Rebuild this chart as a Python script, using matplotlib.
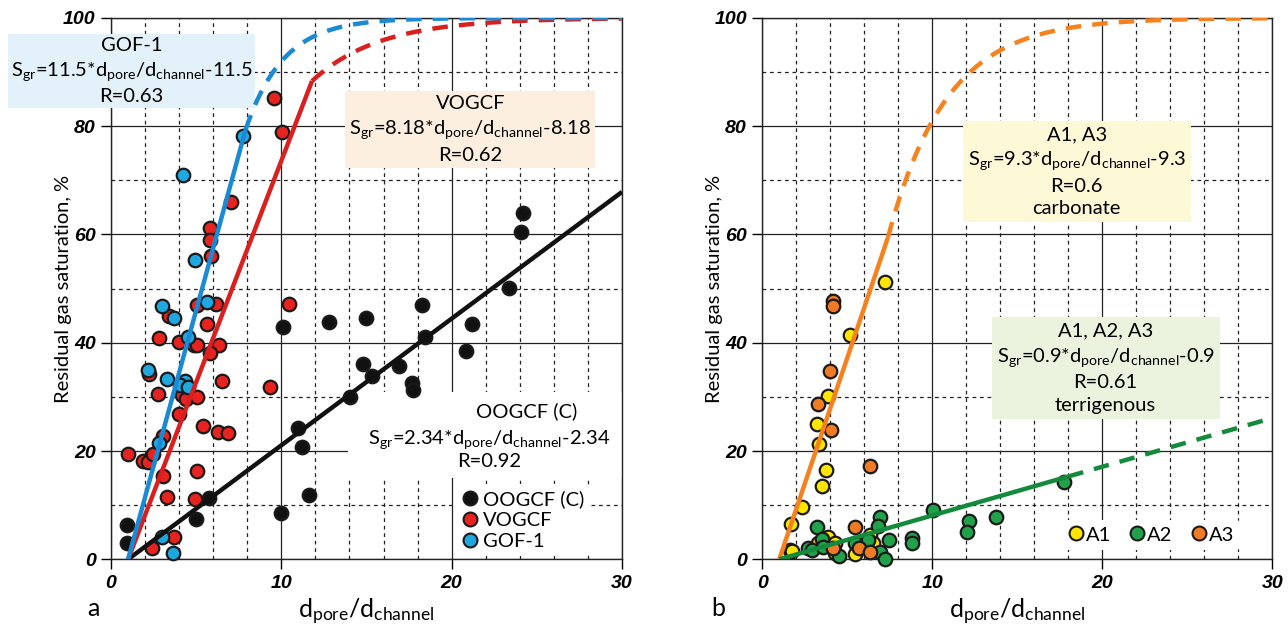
import numpy as np
import matplotlib
matplotlib.use("Agg")
import matplotlib.pyplot as plt
from matplotlib.lines import Line2D
from matplotlib.patches import Rectangle

plt.rcParams['font.family'] = ['Lato', 'DejaVu Sans']
plt.rcParams['mathtext.default'] = 'regular'

# ---- data, panel a ----
oog_x = [0.96, 0.96, 4.98, 5.76, 10.0, 10.1, 10.97, 11.21, 11.6, 12.77, 14.06, 14.78,
         14.98, 15.33, 16.93, 17.67, 17.75, 18.26, 18.43, 20.87, 21.19, 23.37, 24.1, 24.2]
oog_y = [6.3, 3.1, 7.4, 11.3, 8.5, 42.9, 24.2, 20.7, 11.8, 43.9, 29.9, 36.1,
         44.5, 33.9, 35.7, 32.5, 31.3, 47.0, 41.0, 38.5, 43.5, 50.1, 60.4, 64.0]

vog_x = [7.03, 5.80, 5.80, 5.86, 5.02, 6.19, 3.42, 5.66, 2.79, 4.00, 4.88, 5.06, 6.33,
         5.84, 2.24, 6.49, 2.74, 4.14, 4.39, 5.02, 3.99, 5.41, 6.29, 6.84, 3.06, 1.02,
         1.89, 2.19, 2.44, 3.03, 5.02, 3.26, 4.92, 3.69, 2.42, 9.55, 10.04, 10.43, 9.31]
vog_y = [66.0, 61.2, 58.9, 56.1, 47.0, 47.2, 45.0, 43.5, 40.9, 40.1, 39.6, 39.5, 39.6,
         38.1, 34.3, 33.0, 30.6, 30.4, 29.6, 29.9, 26.8, 24.6, 23.6, 23.3, 22.7, 19.5,
         18.2, 17.9, 19.5, 15.3, 16.3, 11.5, 11.1, 4.2, 2.0, 85.2, 79.0, 47.2, 31.9]

gof_x = [4.2, 4.92, 5.66, 2.99, 3.69, 4.53, 2.15, 3.30, 4.34, 4.05, 4.53, 2.83, 3.01, 3.65, 7.73]
gof_y = [71.0, 55.3, 47.6, 46.7, 44.5, 41.1, 34.9, 33.3, 33.0, 32.2, 31.8, 21.4, 4.2, 1.1, 78.2]

# ---- data, panel b ----
a1_x = [7.22, 5.16, 3.88, 3.24, 3.34, 3.75, 3.49, 2.32, 1.67, 1.63, 1.73, 3.88, 3.29,
        4.28, 4.3, 5.45, 6.34, 6.49]
a1_y = [51.3, 41.5, 30.2, 25.0, 21.3, 16.5, 13.6, 9.7, 6.6, 1.8, 1.5, 4.2, 3.0,
        3.0, 1.2, 1.0, 4.5, 3.0]

a2_x = [3.2, 3.49, 2.7, 2.9, 3.59, 4.51, 5.45, 6.24, 6.92, 7.22, 6.92, 6.82, 7.45,
        8.79, 8.79, 10.06, 12.18, 12.02, 13.73, 17.76]
a2_y = [6.0, 3.7, 2.0, 1.8, 2.2, 0.6, 3.0, 3.6, 1.4, 0.0, 7.9, 6.2, 3.6,
        3.9, 3.0, 9.1, 7.1, 5.1, 7.9, 14.3]

a3_x = [4.14, 4.14, 3.98, 3.29, 4.02, 6.34, 5.45, 5.71, 4.18, 6.34]
a3_y = [47.8, 46.7, 34.7, 28.6, 23.9, 17.3, 6.0, 2.0, 2.0, 1.4]

# fits: slope, solid end x, saturation rate of dashed part
fit_oog = (2.34, 30.0, None)
fit_vog = (8.18, 11.8, 0.25)
fit_gof = (11.5, 7.9, 0.45)
fit_carb = (9.3, 7.4, 0.29)
fit_terr = (0.9, 18.0, None)

FS = 14.5


def draw_fit(ax, fit, color):
    k, xe, rate = fit
    xs = np.linspace(1, xe, 50)
    ax.plot(xs, k * xs - k, color=color, lw=3.2, zorder=5, solid_capstyle='butt')
    xd = np.linspace(xe, 30, 200)
    ye = k * xe - k
    if rate is None:
        yd = k * xd - k
    else:
        yd = 100 - (100 - ye) * np.exp(-rate * (xd - xe))
    if xe < 30:
        ax.plot(xd, yd, color=color, lw=3.2, ls=(0, (3.5, 2.5)), zorder=5)


def setup(ax, ylab_x):
    ax.set_xlim(0, 30)
    ax.set_ylim(0, 100)
    ax.set_xticks([0, 10, 20, 30])
    ax.set_yticks([0, 20, 40, 60, 80, 100])
    ax.set_xticks(np.arange(0, 31, 2), minor=True)
    ax.set_yticks(np.arange(0, 101, 10), minor=True)
    ax.grid(which='major', color='#222222', lw=0.9, ls='-')
    ax.grid(which='minor', color='#222222', lw=0.9, ls=(0, (3, 3)))
    ax.set_axisbelow(True)
    ax.tick_params(which='major', direction='out', length=7, width=1, pad=4)
    ax.tick_params(which='minor', length=0)
    for lab in ax.get_xticklabels() + ax.get_yticklabels():
        lab.set_fontfamily('Liberation Sans')
        lab.set_fontweight('bold')
        lab.set_fontstyle('italic')
        lab.set_fontsize(14)
    for s in ax.spines.values():
        s.set_color('#222222')
        s.set_linewidth(1)
    ax.set_ylabel('Residual gas saturation, %', fontsize=FS)
    ax.yaxis.set_label_coords(ylab_x, 0.5)
    ax.set_xlabel(r'$\mathregular{d_{pore}/d_{channel}}$', fontsize=18, labelpad=4)


fig = plt.figure(figsize=(12.88, 6.3), dpi=100)
ax1 = fig.add_axes([0.0862, 0.1122, 0.3967, 0.8593])
ax2 = fig.add_axes([0.5918, 0.1122, 0.3960, 0.8593])

# ---- panel a ----
setup(ax1, -0.077)
sc = dict(s=95, edgecolors='#1a1a1a', linewidths=1.6, zorder=3, clip_on=False)
ax1.scatter(oog_x, oog_y, color='#111111', **sc)
ax1.scatter(vog_x, vog_y, color='#e8231f', **sc)
ax1.scatter(gof_x, gof_y, color='#1fa7df', **sc)
draw_fit(ax1, fit_oog, '#111111')
draw_fit(ax1, fit_vog, '#d9201f')
draw_fit(ax1, fit_gof, '#1a8ad4')

box_kw = dict(ha='center', va='center', fontsize=FS, linespacing=1.4, zorder=4)
ax1.text(1.2, 90.2, 'GOF-1\n' + r'$S_{gr}$=11.5*$d_{pore}$/$d_{channel}$-11.5' + '\nR=0.63',
         bbox=dict(boxstyle='square,pad=0.15', fc='#e3f1fa', ec='none'), **box_kw)
ax1.text(21.1, 79.4, 'VOGCF\n' + r'$S_{gr}$=8.18*$d_{pore}$/$d_{channel}$-8.18' + '\nR=0.62',
         bbox=dict(boxstyle='square,pad=0.2', fc='#fcefdf', ec='none'), **box_kw)

ax1.add_patch(Rectangle((13.9, 15.0), 16.1, 15.9, fc='white', ec='none', zorder=2.5))
ax1.text(24.4, 27.4, 'OOGCF (C)', ha='center', va='center', fontsize=FS, zorder=4)
ax1.text(22.2, 22.1, r'$S_{gr}$=2.34*$d_{pore}$/$d_{channel}$-2.34',
         ha='center', va='center', fontsize=FS, zorder=4)
ax1.text(22.2, 18.0, 'R=0.92', ha='center', va='center', fontsize=FS, zorder=4)

h1 = [Line2D([], [], ls='none', marker='o', ms=10, mfc=c, mec='#1a1a1a', mew=1.5)
      for c in ['#111111', '#e8231f', '#1fa7df']]
lg1 = ax1.legend(h1, ['OOGCF (C)', 'VOGCF', 'GOF-1'], loc='lower left',
                 bbox_to_anchor=(0.672, 0.006), fontsize=FS, frameon=True, framealpha=1,
                 facecolor='white', edgecolor='none', handletextpad=0.1,
                 labelspacing=0.2, borderpad=0.3, handlelength=1.0, borderaxespad=0.0)
lg1.set_zorder(7)

# ---- panel b ----
setup(ax2, -0.077)
ax2.scatter(a1_x, a1_y, color='#ffe500', **sc)
ax2.scatter(a2_x, a2_y, color='#21a24a', **sc)
ax2.scatter(a3_x, a3_y, color='#f07b24', **sc)
draw_fit(ax2, fit_carb, '#f5821f')
draw_fit(ax2, fit_terr, '#148a3c')

ax2.text(18.5, 71.6, 'A1, A3\n' + r'$S_{gr}$=9.3*$d_{pore}$/$d_{channel}$-9.3' + '\nR=0.6\ncarbonate',
         bbox=dict(boxstyle='square,pad=0.25', fc='#fdf8d5', ec='none'), **box_kw)
ax2.text(20.2, 35.3, 'A1, A2, A3\n' + r'$S_{gr}$=0.9*$d_{pore}$/$d_{channel}$-0.9' + '\nR=0.61\nterrigenous',
         bbox=dict(boxstyle='square,pad=0.25', fc='#ebf3df', ec='none'), **box_kw)

h2 = [Line2D([], [], ls='none', marker='o', ms=10, mfc=c, mec='#1a1a1a', mew=1.5)
      for c in ['#ffe500', '#21a24a', '#f07b24']]
lg2 = ax2.legend(h2, ['A1', 'A2', 'A3'], loc='lower right', ncol=3,
                 bbox_to_anchor=(0.937, 0.018), fontsize=FS, frameon=True, framealpha=1,
                 facecolor='white', edgecolor='none', handletextpad=0.0,
                 columnspacing=0.8, borderpad=0.3, handlelength=1.0, borderaxespad=0.0)
lg2.set_zorder(7)

fig.text(0.068, 0.022, 'a', fontsize=18)
fig.text(0.552, 0.022, 'b', fontsize=18)

fig.savefig('out.png', dpi=100)
